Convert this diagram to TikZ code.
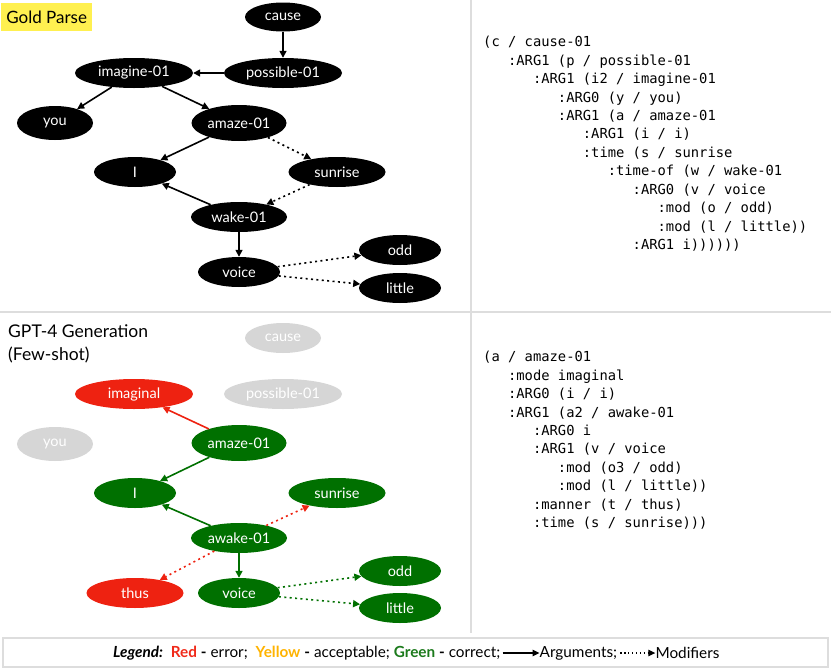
\documentclass[tikz,border=0pt]{standalone}
\usepackage{fontspec}
\setmainfont{Lato}
\newfontfamily\codefont{DejaVu Sans Mono}
\usepackage{xcolor}
\usepackage{tikz}
\usetikzlibrary{arrows.meta, shapes.geometric, positioning}
\definecolor{errred}{HTML}{EE2211}
\definecolor{okgreen}{HTML}{007000}
\definecolor{ghostgray}{HTML}{D6D6D6}
\definecolor{rulegray}{HTML}{DDDDDD}
\definecolor{hilite}{HTML}{FFF050}
\definecolor{accyellow}{HTML}{FFB300}
\definecolor{legred}{HTML}{F02A1A}
\definecolor{leggreen}{HTML}{1C7A1C}
\newcommand{\lvl}[1]{\hspace*{#1\dimexpr 1.806em\relax}}
\tikzset{
    concept/.style={ellipse, fill=black, text=white, inner sep=0pt, minimum width=82pt, minimum height=30pt, font=\fontsize{14.5}{14.5}\selectfont},
    good/.style={concept, fill=okgreen},
    bad/.style={concept, fill=errred},
    ghost/.style={concept, fill=ghostgray},
    argedge/.style={-{Triangle[length=7pt,width=7pt]}, line width=1.6pt},
    modedge/.style={argedge, dash pattern=on 2pt off 3.4pt},
    amrcode/.style={anchor=north west, inner sep=0pt, align=left, font=\codefont\fontsize{13.8}{18.45}\selectfont},
    legfont/.style={inner sep=0pt, font=\fontsize{15.3}{15.3}\selectfont},
    rule/.style={draw=rulegray, line width=2pt}
}

\begin{document}
\begin{tikzpicture}[x=1pt, y=-1pt]
    \useasboundingbox (0,0) rectangle (831,672);
    % frame
    \draw[rule] (471,0) -- (471,633);
    \draw[rule] (0,312) -- (831,312);
    \draw[rule] (3,638) rectangle (828,667);

    % gold parse
    \node[fill=hilite, anchor=north west, inner sep=0pt, minimum width=91pt, minimum height=28pt, font=\fontsize{17}{17}\selectfont] (goldtitle) at (1,3) {Gold Parse};
    \node[concept, minimum width=76pt, minimum height=29pt] (gcause) at (283,17) {cause};
    \node[concept, minimum width=118pt] (gposs) at (283,73) {possible-01};
    \node[concept, minimum width=118pt] (gimag) at (134,73) {imagine-01};
    \node[concept, minimum width=76pt, minimum height=34pt] (gyou) at (55,123) {you};
    \node[concept, minimum width=95pt, minimum height=36pt] (gamaze) at (239,123) {amaze-01};
    \node[concept] (gi) at (135,172) {I};
    \node[concept, minimum width=97pt] (gsun) at (337,172) {sunrise};
    \node[concept, minimum width=96pt] (gwake) at (239,217) {wake-01};
    \node[concept] (gvoice) at (239,272) {voice};
    \node[concept] (godd) at (400,250) {odd};
    \node[concept] (glittle) at (400,288) {little};

    \draw[argedge] (gcause) -- (gposs);
    \draw[argedge] (gposs) -- (gimag);
    \draw[argedge] (gimag) -- (gyou);
    \draw[argedge] (gimag) -- (gamaze);
    \draw[argedge] (gamaze) -- (gi);
    \draw[modedge] (gamaze) -- (gsun);
    \draw[modedge] (gsun) -- (gwake);
    \draw[argedge] (gwake) -- (gi);
    \draw[argedge] (gwake) -- (gvoice);
    \draw[modedge] (gvoice) -- (godd);
    \draw[modedge] (gvoice) -- (glittle);

    \node[amrcode] (goldamr) at (483,36) {(c / cause-01\\
        \lvl{1}:ARG1 (p / possible-01\\
        \lvl{2}:ARG1 (i2 / imagine-01\\
        \lvl{3}:ARG0 (y / you)\\
        \lvl{3}:ARG1 (a / amaze-01\\
        \lvl{4}:ARG1 (i / i)\\
        \lvl{4}:time (s / sunrise\\
        \lvl{5}:time-of (w / wake-01\\
        \lvl{6}:ARG0 (v / voice\\
        \lvl{7}:mod (o / odd)\\
        \lvl{7}:mod (l / little))\\
        \lvl{6}:ARG1 i))))))};

    % gpt-4 generation
    \node[anchor=north west, inner sep=0pt, align=left, font=\fontsize{17.5}{23}\selectfont] (gpttitle) at (8,324) {GPT-4 Generation\\(Few-shot)};
    \node[ghost, minimum width=76pt] (pcause) at (283,338) {cause};
    \node[ghost, minimum width=118pt] (pposs) at (283,394) {possible-01};
    \node[bad, minimum width=118pt] (pimag) at (134,394) {imaginal};
    \node[ghost, minimum width=76pt, minimum height=34pt] (pyou) at (55,444) {you};
    \node[good, minimum width=95pt, minimum height=36pt] (pamaze) at (239,443) {amaze-01};
    \node[good] (pi) at (135,493) {I};
    \node[good, minimum width=97pt] (psun) at (337,493) {sunrise};
    \node[good, minimum width=96pt] (pawake) at (239,538) {awake-01};
    \node[good] (pvoice) at (239,593) {voice};
    \node[bad, minimum width=97pt] (pthus) at (135,593) {thus};
    \node[good] (podd) at (400,571) {odd};
    \node[good] (plittle) at (400,608) {little};

    \draw[argedge, errred] (pamaze) -- (pimag);
    \draw[argedge, okgreen] (pamaze) -- (pi);
    \draw[argedge, okgreen] (pawake) -- (pi);
    \draw[modedge, errred] (pawake) -- (psun);
    \draw[modedge, errred] (pawake) -- (pthus);
    \draw[argedge, okgreen] (pawake) -- (pvoice);
    \draw[modedge, okgreen] (pvoice) -- (podd);
    \draw[modedge, okgreen] (pvoice) -- (plittle);

    \node[amrcode] (gptamr) at (483,351) {(a / amaze-01\\
        \lvl{1}:mode imaginal\\
        \lvl{1}:ARG0 (i / i)\\
        \lvl{1}:ARG1 (a2 / awake-01\\
        \lvl{2}:ARG0 i\\
        \lvl{2}:ARG1 (v / voice\\
        \lvl{3}:mod (o3 / odd)\\
        \lvl{3}:mod (l / little))\\
        \lvl{2}:manner (t / thus)\\
        \lvl{2}:time (s / sunrise)))};

    % legend
    \node[legfont, anchor=west] (legtext) at (113,653)
        {\textbf{\textit{Legend:}}\ \ \textcolor{legred}{\textbf{Red}} \textbf{-} error;\ \ \textcolor{accyellow}{\textbf{Yellow}} \textbf{-} acceptable; \textcolor{leggreen}{\textbf{Green}} \textbf{-} correct;};
    \node[legfont, right=39pt of legtext] (legarg) {Arguments;};
    \node[legfont, right=38pt of legarg] (legmod) {Modifiers};
    \draw[-{Triangle[length=7pt,width=6.5pt]}, line width=1.5pt, shorten <=2pt] (legtext.east) -- (legarg.west);
    \draw[-{Triangle[length=7pt,width=6.5pt]}, line width=1.3pt, dash pattern=on 1.3pt off 2.6pt, shorten <=3pt] (legarg.east) -- (legmod.west);
\end{tikzpicture}
\end{document}
